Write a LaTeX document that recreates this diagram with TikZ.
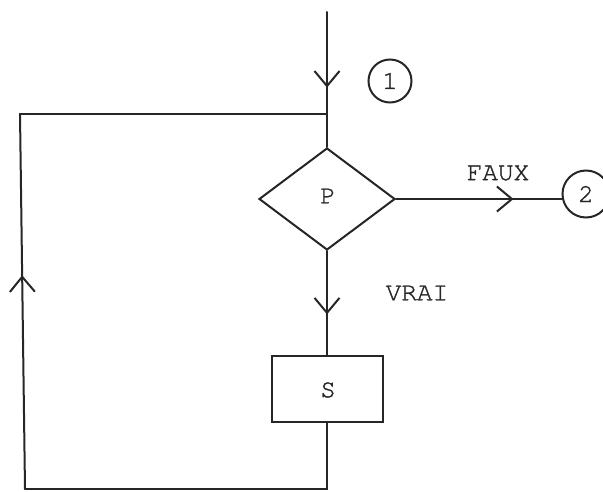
\documentclass[tikz,border=0pt]{standalone}
\usepackage{fontspec}
\setmainfont{TeX Gyre Cursor}[FakeBold=1.2]
\usetikzlibrary{shapes.geometric,arrows.meta,decorations.markings}
\tikzset{
  ln/.style={draw=black!85, line width=2pt, line cap=round, line join=miter},
  midarrow/.style={postaction={decorate},
    decoration={markings, mark=at position #1 with {\arrow[black!85]{Straight Barb[length=15pt,width=25pt,line width=2pt]}}}},
  lbl/.style={font=\fontsize{26}{28}\selectfont, text=black!85, inner sep=0pt},
  conn/.style={draw=black!85, line width=2pt, circle, minimum size=43pt, inner sep=0pt, font=\fontsize{26}{28}\selectfont, text=black!85},
}
\begin{document}
\begin{tikzpicture}[x=1pt,y=-1pt]
\useasboundingbox (0,0) rectangle (603,492);
% nodes
\coordinate (start) at (327,12);
\node[ln, diamond, minimum width=136pt, minimum height=102pt, inner sep=0pt] (P) at (327,199) {};
\node[lbl] (Plbl) at (328,196) {P};
\node[ln, rectangle, minimum width=111pt, minimum height=66pt, inner sep=0pt] (S) at (327,389) {};
\node[lbl] (Slbl) at (328,390) {S};
\node[conn] (c1) at (390,81) {1};
\node[conn, minimum size=47pt] (c2) at (586,194) {2};
\node[lbl] (faux) at (498,173) {FAUX};
\node[lbl] (vrai) at (417,293) {VRAI};
\coordinate (j) at (327,114);
\coordinate (tl) at (20,114);
\coordinate (bl) at (25,489);
\coordinate (br) at (327,489);
% connectors
\draw[ln, midarrow=0.56] (start) -- (P.north);
\draw[ln, midarrow=0.71] (P.east) -- (P.east -| c2.west);
\draw[ln, midarrow=0.61] (P.south) -- (S.north);
\draw[ln] (S.south) -- (br) -- (bl);
\draw[ln, midarrow=0.57] (bl) -- (tl);
\draw[ln] (tl) -- (j);
\end{tikzpicture}
\end{document}
